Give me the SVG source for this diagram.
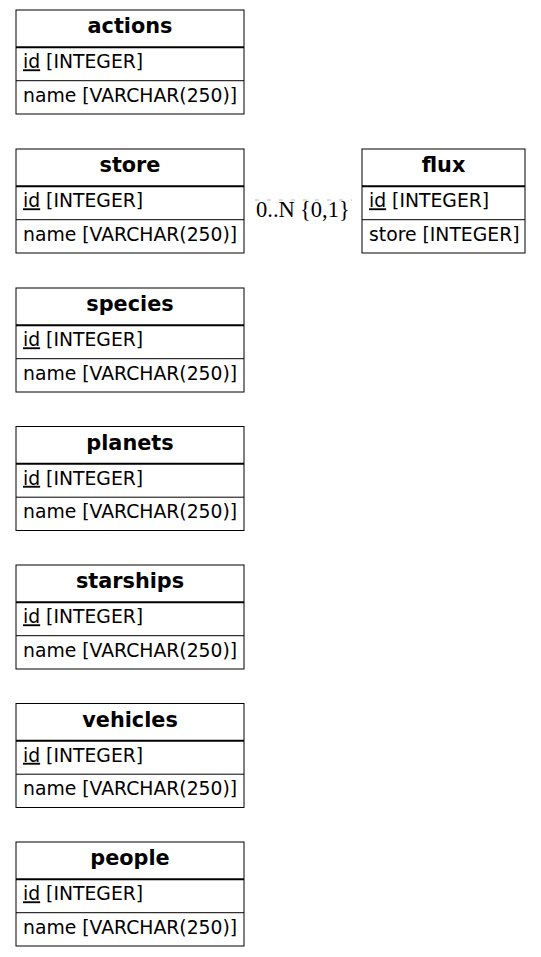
<svg xmlns="http://www.w3.org/2000/svg" width="541" height="957" viewBox="0 0 541 957">
<style>
.box{fill:#fff;stroke:#000;stroke-width:1}
.hd{stroke:#000;stroke-width:2}
.rd{stroke:#000;stroke-width:1}
.t{font-family:"DejaVu Sans",sans-serif;font-weight:bold;font-size:20.8px;text-anchor:middle;fill:#000}
.r{font-family:"DejaVu Sans",sans-serif;font-size:18.8px;fill:#000}
.u{text-decoration:underline}
.lbl{font-family:"Liberation Serif","DejaVu Serif",serif;font-size:22.5px;fill:#000}
</style>
<rect width="541" height="957" fill="#fff"/>
<g id="connectors">
<line x1="255" y1="200" x2="352" y2="200" stroke="#bbb" stroke-width="1" stroke-dasharray="4,8"/>
<text class="lbl" x="256" y="217">0..N</text>
<text class="lbl" x="300" y="217">{0,1}</text>
</g>
<g id="actions" transform="translate(16,10)">
<rect class="box" x="0" y="0" width="228" height="104"/>
<line class="hd" x1="0" y1="37.3" x2="228" y2="37.3"/>
<line class="rd" x1="0" y1="70.7" x2="228" y2="70.7"/>
<text class="t" x="114" y="23">actions</text>
<text class="r" x="7" y="58.3"><tspan class="u">id</tspan> [INTEGER]</text>
<text class="r" x="7" y="91.7">name [VARCHAR(250)]</text>
</g>
<g id="store" transform="translate(16,149)">
<rect class="box" x="0" y="0" width="228" height="104"/>
<line class="hd" x1="0" y1="37.3" x2="228" y2="37.3"/>
<line class="rd" x1="0" y1="70.7" x2="228" y2="70.7"/>
<text class="t" x="114" y="23">store</text>
<text class="r" x="7" y="58.3"><tspan class="u">id</tspan> [INTEGER]</text>
<text class="r" x="7" y="91.7">name [VARCHAR(250)]</text>
</g>
<g id="flux" transform="translate(362,149)">
<rect class="box" x="0" y="0" width="163" height="104"/>
<line class="hd" x1="0" y1="37.3" x2="163" y2="37.3"/>
<line class="rd" x1="0" y1="70.7" x2="163" y2="70.7"/>
<text class="t" x="81.5" y="23">flux</text>
<text class="r" x="7" y="58.3"><tspan class="u">id</tspan> [INTEGER]</text>
<text class="r" x="7" y="91.7">store [INTEGER]</text>
</g>
<g id="species" transform="translate(16,288)">
<rect class="box" x="0" y="0" width="228" height="104"/>
<line class="hd" x1="0" y1="37.3" x2="228" y2="37.3"/>
<line class="rd" x1="0" y1="70.7" x2="228" y2="70.7"/>
<text class="t" x="114" y="23">species</text>
<text class="r" x="7" y="58.3"><tspan class="u">id</tspan> [INTEGER]</text>
<text class="r" x="7" y="91.7">name [VARCHAR(250)]</text>
</g>
<g id="planets" transform="translate(16,426.5)">
<rect class="box" x="0" y="0" width="228" height="104"/>
<line class="hd" x1="0" y1="37.3" x2="228" y2="37.3"/>
<line class="rd" x1="0" y1="70.7" x2="228" y2="70.7"/>
<text class="t" x="114" y="23">planets</text>
<text class="r" x="7" y="58.3"><tspan class="u">id</tspan> [INTEGER]</text>
<text class="r" x="7" y="91.7">name [VARCHAR(250)]</text>
</g>
<g id="starships" transform="translate(16,565)">
<rect class="box" x="0" y="0" width="228" height="104"/>
<line class="hd" x1="0" y1="37.3" x2="228" y2="37.3"/>
<line class="rd" x1="0" y1="70.7" x2="228" y2="70.7"/>
<text class="t" x="114" y="23">starships</text>
<text class="r" x="7" y="58.3"><tspan class="u">id</tspan> [INTEGER]</text>
<text class="r" x="7" y="91.7">name [VARCHAR(250)]</text>
</g>
<g id="vehicles" transform="translate(16,703.5)">
<rect class="box" x="0" y="0" width="228" height="104"/>
<line class="hd" x1="0" y1="37.3" x2="228" y2="37.3"/>
<line class="rd" x1="0" y1="70.7" x2="228" y2="70.7"/>
<text class="t" x="114" y="23">vehicles</text>
<text class="r" x="7" y="58.3"><tspan class="u">id</tspan> [INTEGER]</text>
<text class="r" x="7" y="91.7">name [VARCHAR(250)]</text>
</g>
<g id="people" transform="translate(16,842)">
<rect class="box" x="0" y="0" width="228" height="104"/>
<line class="hd" x1="0" y1="37.3" x2="228" y2="37.3"/>
<line class="rd" x1="0" y1="70.7" x2="228" y2="70.7"/>
<text class="t" x="114" y="23">people</text>
<text class="r" x="7" y="58.3"><tspan class="u">id</tspan> [INTEGER]</text>
<text class="r" x="7" y="91.7">name [VARCHAR(250)]</text>
</g>
</svg>
